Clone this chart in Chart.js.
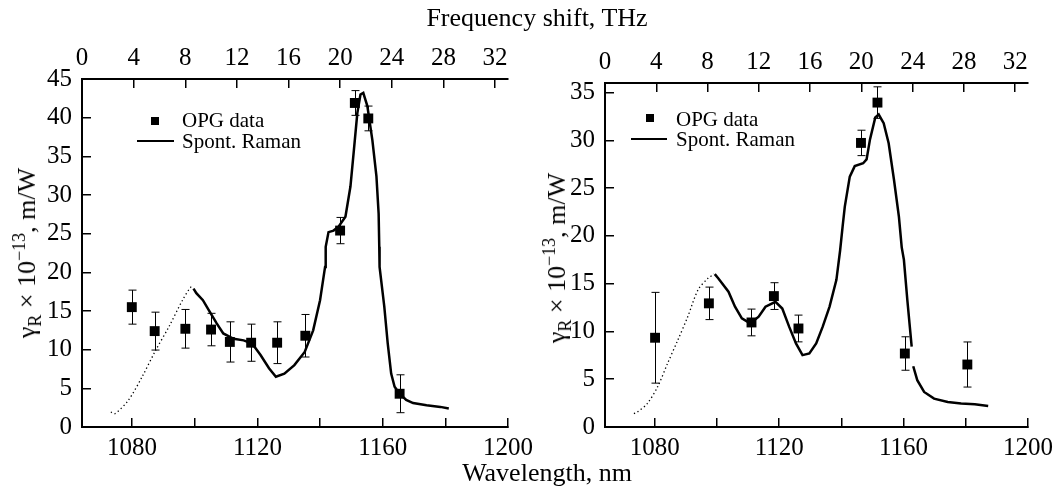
<html>
<head>
<title>Raman gain spectra</title>
<script src="https://cdn.jsdelivr.net/npm/chart.js@4.4.0/dist/chart.umd.min.js"></script>
<style>
  body { margin: 0; background: #fff; }
  #wrap { position: relative; width: 1058px; height: 492px; font-family: 'Liberation Serif', serif; color: #000; }
  #wrap canvas { position: absolute; left: 0; top: 0; }
  .txt { position: absolute; white-space: nowrap; font-size: 26px; line-height: 26px; transform: translateX(-50%); }
  .ytitle { position: absolute; white-space: nowrap; font-size: 26px; line-height: 26px; transform: translate(-50%, -50%) rotate(-90deg); }
  .ytitle sub, .ytitle sup { font-size: 18px; line-height: 0; }
  .leg { position: absolute; white-space: nowrap; font-size: 21px; line-height: 21px; }
  .sq { position: absolute; width: 8px; height: 8px; background: #000; }
  .ln { position: absolute; height: 2px; background: #000; }
</style>
</head>
<body>
<div id="wrap">
  <canvas id="chartA" width="1058" height="492"></canvas>
  <canvas id="chartB" width="1058" height="492"></canvas>

  <div class="txt" style="left:537px; top:5px;">Frequency shift, THz</div>
  <div class="txt" style="left:547px; top:460px;">Wavelength, nm</div>
  <div class="ytitle" style="left:27px; top:253px;">&gamma;<sub>R</sub> &times; 10<sup>&minus;13</sup>, m/W</div>
  <div class="ytitle" style="left:557px; top:258px;">&gamma;<sub>R</sub> &times; 10<sup>&minus;13</sup>, m/W</div>

  <!--legend left-->
  <div class="sq" style="left:151px; top:117px;"></div>
  <div class="leg" style="left:182px; top:110px;">OPG data</div>
  <div class="ln" style="left:137px; top:140px; width:37px;"></div>
  <div class="leg" style="left:182px; top:131px;">Spont. Raman</div>

  <!--legend right-->
  <div class="sq" style="left:646px; top:114px;"></div>
  <div class="leg" style="left:676px; top:109px;">OPG data</div>
  <div class="ln" style="left:631px; top:138px; width:36px;"></div>
  <div class="leg" style="left:676px; top:129px;">Spont. Raman</div>
</div>

<script>
  // ---- left panel ----
  var opgWlA   = [1079.9, 1087.2, 1097.0, 1105.2, 1111.2, 1118.0, 1126.3, 1135.3, 1146.4, 1151.1, 1155.4, 1165.4];
  var opgGainA = [15.5, 12.4, 12.7, 12.6, 11.0, 10.9, 10.9, 11.8, 25.4, 41.9, 39.9, 4.3];
  var opgErrA  = [2.2, 2.45, 2.5, 2.1, 2.6, 2.4, 2.7, 2.75, 1.7, 1.6, 1.6, 2.45];

  var dotWlA   = [1073.2, 1074.5, 1078.8, 1083.2, 1087.5, 1091.8, 1096.1, 1098.8, 1099.6];
  var dotGainA = [1.94, 1.73, 3.46, 6.5, 9.9, 13.0, 16.4, 18.1, 17.9];

  var ramWlA   = [1099.6, 1100.5, 1102.6, 1104.8, 1107.0, 1109.1, 1112.4, 1115.6, 1118.3, 1121.0, 1123.7, 1125.9,
                  1128.6, 1131.8, 1135.1, 1137.8, 1140.0, 1141.6, 1141.8, 1142.7, 1144.3, 1145.9, 1148.1, 1149.7,
                  1150.8, 1151.9, 1152.9, 1153.8, 1155.1, 1156.7, 1158.0, 1158.7, 1158.9, 1159.0, 1160.5, 1161.6,
                  1162.7, 1163.8, 1165.4, 1167.5, 1169.7, 1174.0, 1178.4, 1181.1];
  var ramGainA = [17.9, 17.3, 16.4, 14.9, 13.4, 12.1, 11.4, 11.2, 10.8, 9.3, 7.6, 6.5,
                  6.9, 8.0, 9.7, 12.5, 16.4, 20.7, 23.3, 25.2, 25.4, 25.9, 27.2, 31.1,
                  35.8, 40.6, 43.0, 43.2, 41.5, 37.1, 32.4, 27.6, 23.3, 20.7, 15.6, 10.8,
                  6.9, 5.2, 4.3, 3.5, 3.1, 2.8, 2.6, 2.4];

  // ---- right panel ----
  var opgWlB   = [1080.1, 1097.4, 1111.1, 1118.3, 1126.2, 1146.3, 1151.6, 1160.4, 1180.5];
  var opgGainB = [9.34, 12.94, 10.94, 13.7, 10.31, 29.73, 33.95, 7.69, 6.54];
  var opgErrB  = [4.75, 1.7, 1.4, 1.4, 1.4, 1.33, 1.65, 1.75, 2.36];

  var dotWlB   = [1073.3, 1074.4, 1077.6, 1080.9, 1084.1, 1087.4, 1090.6, 1093.9, 1097.1, 1099.1];
  var dotGainB = [1.40, 1.57, 2.45, 4.2, 6.64, 9.09, 11.54, 14.34, 15.56, 16.0];

  var ramWlB   = [1099.3, 1100.4, 1103.7, 1105.8, 1108.0, 1110.7, 1113.4, 1115.6, 1118.8, 1121.0, 1123.2, 1125.4,
                  1127.5, 1129.7, 1131.9, 1134.0, 1136.2, 1138.4, 1139.6, 1140.4, 1141.1, 1142.7, 1144.3, 1147.0,
                  1148.1, 1149.2, 1150.9, 1152.0, 1153.6, 1155.2, 1156.9, 1158.5, 1159.4, 1160.1, 1161.2, 1162.0,
                  1162.6, 1162.85, 1163.1, 1164.4, 1166.6, 1169.8, 1174.2, 1178.5, 1182.9, 1187.2];
  var ramGainB = [16.0, 15.56, 14.16, 12.59, 11.36, 10.84, 11.54, 12.59, 13.1, 12.4, 10.5, 8.74,
                  7.52, 7.7, 8.74, 10.5, 12.6, 15.4, 18.5, 21.0, 23.06, 26.2, 27.3, 27.6,
                  28.0, 30.1, 32.4, 32.7, 31.8, 29.7, 25.9, 22.0, 18.8, 17.5, 13.3, 10.5,
                  8.4, null, 6.36, 4.9, 3.67, 2.97, 2.62, 2.45, 2.38, 2.2];

  // axis ranges / ticks
  var wlMin = 1064, wlMax = 1200, wlStep = 20;
  var thzMin = 0, thzMax = 33, thzStep = 4;
  var gainMaxA = 45, gainMaxB = 36, gainStep = 5;

  function pts(xs, ys){
    var out = [];
    for (var i=0;i<xs.length;i++){ out.push({x: xs[i], y: ys[i]}); }
    return out;
  }

  // vertical error bars with small caps
  var errorBars = {
    id: 'errorBars',
    beforeDatasetsDraw: function(chart){
      var ctx = chart.ctx, xs = chart.scales.x, ys = chart.scales.y;
      chart.data.datasets.forEach(function(ds){
        if (!ds.errors) return;
        ctx.save();
        ctx.strokeStyle = '#000';
        ctx.lineWidth = 1;
        ds.data.forEach(function(p, i){
          var px = Math.round(xs.getPixelForValue(p.x)) + 0.5;
          var t = ys.getPixelForValue(p.y + ds.errors[i]);
          var b = ys.getPixelForValue(p.y - ds.errors[i]);
          ctx.beginPath();
          ctx.moveTo(px, t); ctx.lineTo(px, b);
          ctx.moveTo(px-4, t); ctx.lineTo(px+4, t);
          ctx.moveTo(px-4, b); ctx.lineTo(px+4, b);
          ctx.stroke();
        });
        ctx.restore();
      });
    }
  };

  Chart.defaults.font.family = "'Liberation Serif', serif";
  Chart.defaults.font.size = 25;
  Chart.defaults.color = '#000';

  function axisGrid(){
    return { drawOnChartArea: false, tickLength: -9, color: '#000', lineWidth: 1.5 };
  }

  // keep the plot box where we put it: no extra room for edge labels
  function noEdgePad(s){ s.paddingLeft = 0; s.paddingRight = 0; }

  function makeChart(id, opg, err, dots, ram, gainMax, box){
    return new Chart(document.getElementById(id), {
      type: 'scatter',
      data: {
        datasets: [
          { label: 'OPG data', data: opg, errors: err, pointStyle: 'rect', pointRadius: 7,
            backgroundColor: '#000', borderColor: '#000', borderWidth: 0, showLine: false },
          { label: 'Spont. Raman', data: ram, showLine: true, borderColor: '#000', borderWidth: 2.5,
            pointRadius: 0, tension: 0, spanGaps: false },
          { label: 'dotted', data: dots, showLine: true, borderColor: '#000', borderWidth: 1.3,
            borderDash: [1.3, 2.7], pointRadius: 0, tension: 0.3 }
        ]
      },
      options: {
        responsive: false,
        animation: false,
        events: [],
        layout: { padding: { left: 0, right: box.padRight, top: 0, bottom: 0 } },
        plugins: { legend: { display: false }, tooltip: { enabled: false } },
        scales: {
          x: {
            type: 'linear', position: 'bottom', min: wlMin, max: wlMax,
            grid: axisGrid(), border: { color: '#000', width: 2 },
            ticks: { stepSize: wlStep, includeBounds: false, padding: 15, maxRotation: 0,
                     callback: function(v){ return v % 40 === 0 ? v : ''; } },
            afterFit: function(s){ s.height = 65; noEdgePad(s); }
          },
          x2: {
            type: 'linear', position: 'top', min: thzMin, max: thzMax,
            grid: axisGrid(), border: { color: '#000', width: 2 },
            ticks: { stepSize: thzStep, includeBounds: false, padding: 15, maxRotation: 0 },
            afterFit: function(s){ s.height = box.top; noEdgePad(s); }
          },
          y: {
            type: 'linear', position: 'left', min: 0, max: gainMax,
            grid: axisGrid(), border: { color: '#000', width: 2 },
            ticks: { stepSize: gainStep, includeBounds: false, padding: 19 },
            afterFit: function(s){ s.width = box.left; }
          }
        }
      },
      plugins: [errorBars]
    });
  }

  makeChart('chartA', pts(opgWlA, opgGainA), opgErrA, pts(dotWlA, dotGainA), pts(ramWlA, ramGainA),
            gainMaxA, { left: 82, top: 79, padRight: 1058 - 508 });
  makeChart('chartB', pts(opgWlB, opgGainB), opgErrB, pts(dotWlB, dotGainB), pts(ramWlB, ramGainB),
            gainMaxB, { left: 605, top: 83, padRight: 1058 - 1028 });
</script>
</body>
</html>
